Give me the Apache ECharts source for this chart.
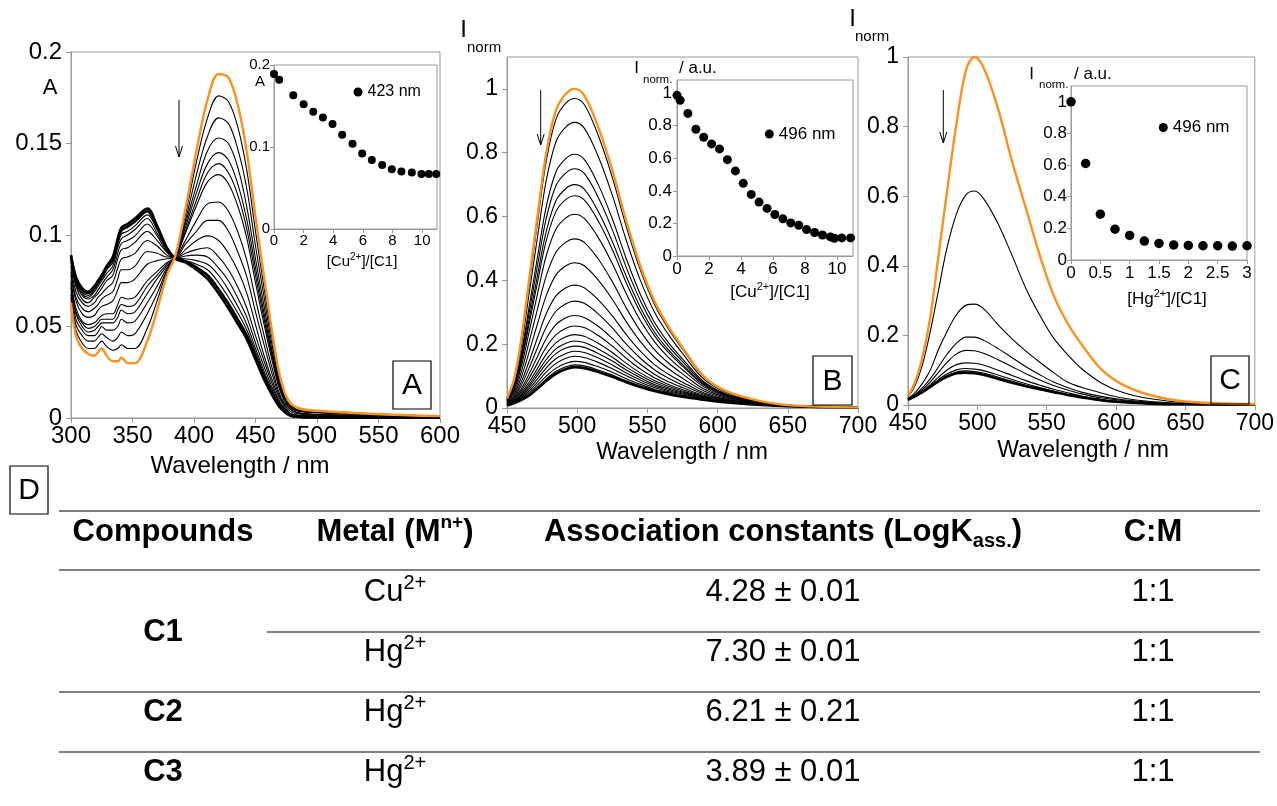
<!DOCTYPE html>
<html>
<head>
<meta charset="utf-8">
<script src="https://cdn.jsdelivr.net/npm/echarts@6.0.0/dist/echarts.min.js"></script>
<style>
html, body { margin: 0; padding: 0; background: #fff; }
#chart { width: 1277px; height: 806px; }
</style>
</head>
<body>
<div id="chart"></div>
<script>
var FONT = '"Liberation Sans", Arial, sans-serif';
var ORANGE = '#f7931e';
var AXIS = '#999999';

// ---- panel A : absorbance titration with Cu2+ (first = free ligand, last = end point)
var waveA = [300, 304, 309, 314, 319, 322, 325, 329, 334, 338, 341, 346, 352, 362, 370, 378, 385, 393, 402, 411, 420, 428, 436, 443, 450, 457, 464, 471, 480, 500, 600];
var absA = [
  [0.063, 0.045, 0.038, 0.035, 0.034, 0.036, 0.038, 0.034, 0.031, 0.031, 0.033, 0.030, 0.030, 0.042, 0.059, 0.078, 0.089, 0.114, 0.146, 0.174, 0.188, 0.186, 0.170, 0.145, 0.110, 0.077, 0.045, 0.020, 0.007, 0.004, 0.001],
  [0.066, 0.048, 0.041, 0.038, 0.038, 0.040, 0.042, 0.039, 0.037, 0.038, 0.040, 0.038, 0.038, 0.049, 0.064, 0.080, 0.089, 0.111, 0.140, 0.164, 0.176, 0.173, 0.158, 0.135, 0.102, 0.071, 0.042, 0.019, 0.006, 0.004, 0.001],
  [0.068, 0.051, 0.045, 0.042, 0.042, 0.044, 0.046, 0.044, 0.042, 0.044, 0.047, 0.045, 0.046, 0.057, 0.068, 0.081, 0.089, 0.108, 0.133, 0.154, 0.164, 0.161, 0.146, 0.125, 0.094, 0.066, 0.038, 0.017, 0.006, 0.003, 0.001],
  [0.071, 0.054, 0.048, 0.045, 0.045, 0.047, 0.050, 0.048, 0.048, 0.050, 0.054, 0.052, 0.053, 0.063, 0.072, 0.082, 0.088, 0.106, 0.127, 0.146, 0.153, 0.150, 0.136, 0.115, 0.087, 0.061, 0.035, 0.016, 0.005, 0.003, 0.001],
  [0.072, 0.057, 0.050, 0.047, 0.048, 0.050, 0.052, 0.052, 0.052, 0.055, 0.059, 0.057, 0.058, 0.068, 0.076, 0.083, 0.088, 0.104, 0.123, 0.139, 0.145, 0.141, 0.127, 0.108, 0.082, 0.057, 0.033, 0.015, 0.005, 0.003, 0.001],
  [0.074, 0.058, 0.052, 0.049, 0.050, 0.052, 0.054, 0.054, 0.054, 0.059, 0.062, 0.061, 0.062, 0.072, 0.078, 0.084, 0.088, 0.102, 0.119, 0.134, 0.139, 0.134, 0.121, 0.103, 0.078, 0.054, 0.032, 0.014, 0.005, 0.003, 0.001],
  [0.075, 0.060, 0.053, 0.051, 0.052, 0.054, 0.056, 0.057, 0.057, 0.062, 0.066, 0.065, 0.066, 0.075, 0.080, 0.085, 0.088, 0.101, 0.116, 0.129, 0.133, 0.128, 0.115, 0.098, 0.074, 0.051, 0.030, 0.013, 0.004, 0.002, 0.001],
  [0.078, 0.064, 0.057, 0.055, 0.056, 0.059, 0.061, 0.062, 0.064, 0.070, 0.074, 0.074, 0.076, 0.084, 0.086, 0.087, 0.088, 0.097, 0.108, 0.117, 0.118, 0.113, 0.101, 0.086, 0.065, 0.045, 0.026, 0.011, 0.004, 0.002, 0.0005],
  [0.080, 0.066, 0.060, 0.058, 0.060, 0.062, 0.065, 0.067, 0.069, 0.076, 0.081, 0.081, 0.083, 0.091, 0.090, 0.088, 0.088, 0.095, 0.102, 0.108, 0.108, 0.102, 0.090, 0.077, 0.058, 0.040, 0.023, 0.010, 0.003, 0.0015, 0.0004],
  [0.083, 0.069, 0.063, 0.061, 0.063, 0.066, 0.068, 0.071, 0.074, 0.082, 0.087, 0.088, 0.090, 0.097, 0.094, 0.089, 0.0875, 0.092, 0.097, 0.0995, 0.097, 0.090, 0.080, 0.068, 0.051, 0.034, 0.020, 0.009, 0.002, 0.001, 0.0003],
  [0.085, 0.072, 0.065, 0.063, 0.066, 0.068, 0.071, 0.075, 0.078, 0.087, 0.092, 0.093, 0.096, 0.102, 0.097, 0.0905, 0.0873, 0.090, 0.092, 0.093, 0.088, 0.081, 0.071, 0.060, 0.045, 0.031, 0.018, 0.0075, 0.002, 0.001, 0.0002],
  [0.086, 0.073, 0.067, 0.065, 0.067, 0.070, 0.073, 0.077, 0.081, 0.090, 0.0955, 0.097, 0.0995, 0.106, 0.0995, 0.091, 0.0872, 0.0885, 0.089, 0.088, 0.082, 0.075, 0.065, 0.055, 0.041, 0.028, 0.016, 0.007, 0.0017, 0.0008, 0.0002],
  [0.087, 0.074, 0.068, 0.066, 0.069, 0.072, 0.075, 0.079, 0.083, 0.093, 0.098, 0.100, 0.103, 0.109, 0.101, 0.092, 0.0872, 0.087, 0.086, 0.084, 0.078, 0.070, 0.0605, 0.051, 0.038, 0.0255, 0.0146, 0.0062, 0.0015, 0.0006, 0.0002],
  [0.088, 0.075, 0.069, 0.067, 0.070, 0.073, 0.076, 0.081, 0.085, 0.095, 0.1005, 0.102, 0.105, 0.111, 0.103, 0.092, 0.0871, 0.086, 0.084, 0.081, 0.074, 0.066, 0.057, 0.048, 0.036, 0.024, 0.0136, 0.0057, 0.0013, 0.0005, 0.0001],
  [0.0885, 0.0764, 0.0703, 0.0683, 0.0712, 0.0742, 0.0772, 0.082, 0.0869, 0.0967, 0.1026, 0.1045, 0.1074, 0.113, 0.104, 0.0927, 0.087, 0.0856, 0.0823, 0.078, 0.0704, 0.0625, 0.0534, 0.045, 0.0336, 0.0221, 0.0127, 0.0053, 0.0011, 0.0004, 0.0001],
  [0.089, 0.077, 0.071, 0.069, 0.072, 0.075, 0.078, 0.083, 0.088, 0.098, 0.104, 0.106, 0.109, 0.1145, 0.105, 0.093, 0.087, 0.085, 0.081, 0.076, 0.068, 0.060, 0.051, 0.043, 0.032, 0.021, 0.012, 0.005, 0.001, 0.0003, 0.0001]
];
// inset A : A at 423 nm vs [Cu2+]/[C1]
var ratioCuA = [0, 0.35, 1.3, 2.0, 2.65, 3.3, 3.95, 4.6, 5.3, 5.95, 6.6, 7.3, 7.95, 8.6, 9.3, 9.95, 10.45, 10.95];
var abs423 = [0.189, 0.182, 0.163, 0.152, 0.143, 0.136, 0.128, 0.115, 0.104, 0.092, 0.084, 0.078, 0.073, 0.070, 0.069, 0.067, 0.067, 0.067];

// ---- panels B and C : normalised emission
var waveBC = [450, 455, 460, 466, 472, 478, 485, 492, 498, 505, 515, 525, 535, 545, 555, 565, 575, 590, 605, 625, 650, 700];
var fluB = [
  [0.03, 0.09, 0.21, 0.41, 0.61, 0.80, 0.935, 0.985, 1.0, 0.98, 0.88, 0.745, 0.585, 0.445, 0.335, 0.255, 0.19, 0.10, 0.055, 0.027, 0.009, 0.002],
  [0.029, 0.087, 0.204, 0.397, 0.591, 0.776, 0.907, 0.956, 0.970, 0.951, 0.854, 0.723, 0.568, 0.432, 0.325, 0.248, 0.185, 0.098, 0.054, 0.026, 0.009, 0.002],
  [0.027, 0.081, 0.188, 0.366, 0.544, 0.714, 0.836, 0.881, 0.895, 0.877, 0.788, 0.667, 0.525, 0.400, 0.301, 0.230, 0.171, 0.091, 0.051, 0.025, 0.009, 0.002],
  [0.025, 0.072, 0.167, 0.323, 0.481, 0.632, 0.741, 0.782, 0.795, 0.779, 0.700, 0.593, 0.467, 0.356, 0.269, 0.205, 0.154, 0.083, 0.046, 0.023, 0.008, 0.002],
  [0.024, 0.069, 0.157, 0.304, 0.453, 0.595, 0.698, 0.737, 0.750, 0.735, 0.660, 0.559, 0.440, 0.336, 0.254, 0.194, 0.146, 0.079, 0.044, 0.022, 0.008, 0.002],
  [0.022, 0.064, 0.146, 0.283, 0.422, 0.554, 0.651, 0.688, 0.700, 0.686, 0.616, 0.522, 0.412, 0.315, 0.238, 0.182, 0.137, 0.075, 0.042, 0.021, 0.008, 0.002],
  [0.022, 0.061, 0.139, 0.268, 0.400, 0.525, 0.617, 0.654, 0.665, 0.652, 0.586, 0.497, 0.392, 0.300, 0.227, 0.174, 0.131, 0.072, 0.041, 0.021, 0.008, 0.002],
  [0.020, 0.056, 0.127, 0.243, 0.363, 0.478, 0.562, 0.596, 0.607, 0.594, 0.534, 0.453, 0.358, 0.274, 0.208, 0.159, 0.120, 0.067, 0.038, 0.020, 0.008, 0.002],
  [0.018, 0.050, 0.110, 0.211, 0.315, 0.415, 0.489, 0.520, 0.530, 0.519, 0.467, 0.396, 0.313, 0.241, 0.183, 0.141, 0.107, 0.060, 0.035, 0.018, 0.007, 0.002],
  [0.016, 0.043, 0.094, 0.179, 0.268, 0.353, 0.418, 0.446, 0.455, 0.446, 0.401, 0.341, 0.270, 0.208, 0.159, 0.123, 0.093, 0.054, 0.032, 0.017, 0.007, 0.002],
  [0.015, 0.037, 0.080, 0.149, 0.224, 0.296, 0.352, 0.377, 0.385, 0.377, 0.339, 0.289, 0.230, 0.178, 0.136, 0.106, 0.081, 0.048, 0.029, 0.016, 0.007, 0.002],
  [0.013, 0.033, 0.069, 0.128, 0.192, 0.254, 0.304, 0.327, 0.335, 0.328, 0.295, 0.251, 0.200, 0.156, 0.120, 0.093, 0.072, 0.044, 0.027, 0.015, 0.007, 0.002],
  [0.012, 0.029, 0.059, 0.109, 0.164, 0.218, 0.262, 0.283, 0.290, 0.284, 0.256, 0.218, 0.175, 0.137, 0.106, 0.082, 0.064, 0.040, 0.025, 0.014, 0.007, 0.002],
  [0.011, 0.026, 0.052, 0.095, 0.143, 0.191, 0.230, 0.250, 0.257, 0.252, 0.227, 0.194, 0.156, 0.122, 0.095, 0.074, 0.058, 0.037, 0.024, 0.013, 0.006, 0.002],
  [0.011, 0.024, 0.047, 0.083, 0.126, 0.169, 0.205, 0.223, 0.230, 0.225, 0.203, 0.174, 0.140, 0.110, 0.086, 0.068, 0.053, 0.035, 0.022, 0.013, 0.006, 0.002],
  [0.010, 0.022, 0.042, 0.075, 0.114, 0.152, 0.186, 0.203, 0.210, 0.205, 0.185, 0.159, 0.128, 0.102, 0.080, 0.063, 0.050, 0.033, 0.022, 0.013, 0.006, 0.002],
  [0.010, 0.021, 0.039, 0.068, 0.104, 0.139, 0.171, 0.188, 0.194, 0.190, 0.171, 0.147, 0.119, 0.095, 0.074, 0.059, 0.047, 0.032, 0.021, 0.012, 0.006, 0.002],
  [0.009, 0.019, 0.036, 0.061, 0.093, 0.126, 0.155, 0.171, 0.178, 0.174, 0.157, 0.135, 0.110, 0.088, 0.069, 0.055, 0.044, 0.030, 0.020, 0.012, 0.006, 0.002],
  [0.009, 0.018, 0.032, 0.054, 0.083, 0.113, 0.140, 0.156, 0.162, 0.158, 0.143, 0.123, 0.101, 0.081, 0.064, 0.051, 0.041, 0.029, 0.019, 0.012, 0.006, 0.002],
  [0.0085, 0.017, 0.029, 0.048, 0.074, 0.100, 0.125, 0.140, 0.146, 0.143, 0.129, 0.112, 0.092, 0.074, 0.059, 0.048, 0.038, 0.028, 0.019, 0.011, 0.006, 0.002],
  [0.008, 0.016, 0.027, 0.043, 0.066, 0.091, 0.115, 0.129, 0.135, 0.132, 0.119, 0.103, 0.085, 0.069, 0.055, 0.045, 0.036, 0.027, 0.018, 0.011, 0.006, 0.002],
  [0.008, 0.015, 0.025, 0.040, 0.062, 0.085, 0.108, 0.122, 0.128, 0.125, 0.113, 0.098, 0.081, 0.066, 0.053, 0.043, 0.035, 0.026, 0.018, 0.011, 0.006, 0.002]
];
var ratioCuB = [0, 0.2, 0.68, 1.18, 1.67, 2.16, 2.66, 3.15, 3.65, 4.14, 4.64, 5.13, 5.63, 6.12, 6.62, 7.11, 7.61, 8.1, 8.6, 9.09, 9.59, 9.84, 10.3, 10.85];
var int496B = [0.986, 0.955, 0.875, 0.778, 0.729, 0.688, 0.657, 0.591, 0.522, 0.446, 0.378, 0.331, 0.292, 0.255, 0.228, 0.203, 0.189, 0.162, 0.144, 0.129, 0.117, 0.109, 0.111, 0.111];

var fluC = [
  [0.025, 0.065, 0.13, 0.25, 0.43, 0.61, 0.81, 0.965, 1.0, 0.965, 0.85, 0.70, 0.565, 0.43, 0.315, 0.235, 0.175, 0.10, 0.058, 0.028, 0.010, 0.002],
  [0.022, 0.055, 0.11, 0.21, 0.33, 0.45, 0.55, 0.605, 0.615, 0.59, 0.52, 0.43, 0.335, 0.258, 0.192, 0.145, 0.105, 0.062, 0.036, 0.018, 0.007, 0.002],
  [0.018, 0.035, 0.06, 0.10, 0.16, 0.21, 0.26, 0.287, 0.29, 0.275, 0.23, 0.19, 0.155, 0.123, 0.093, 0.066, 0.051, 0.034, 0.02, 0.01, 0.004, 0.001],
  [0.017, 0.03, 0.048, 0.075, 0.11, 0.145, 0.178, 0.195, 0.195, 0.185, 0.162, 0.136, 0.11, 0.087, 0.066, 0.05, 0.037, 0.024, 0.015, 0.008, 0.003, 0.001],
  [0.016, 0.028, 0.043, 0.066, 0.094, 0.122, 0.147, 0.157, 0.156, 0.148, 0.13, 0.11, 0.09, 0.072, 0.056, 0.043, 0.032, 0.02, 0.013, 0.007, 0.003, 0.001],
  [0.015, 0.026, 0.039, 0.058, 0.080, 0.100, 0.116, 0.121, 0.12, 0.114, 0.10, 0.085, 0.07, 0.057, 0.045, 0.035, 0.026, 0.016, 0.01, 0.005, 0.002, 0.001],
  [0.015, 0.025, 0.037, 0.054, 0.073, 0.089, 0.101, 0.105, 0.103, 0.098, 0.086, 0.073, 0.061, 0.05, 0.04, 0.031, 0.024, 0.014, 0.009, 0.005, 0.002, 0.001],
  [0.015, 0.025, 0.036, 0.053, 0.070, 0.084, 0.095, 0.098, 0.096, 0.091, 0.080, 0.068, 0.057, 0.047, 0.038, 0.030, 0.023, 0.014, 0.008, 0.004, 0.002, 0.001],
  [0.015, 0.025, 0.036, 0.052, 0.068, 0.081, 0.091, 0.093, 0.091, 0.086, 0.075, 0.064, 0.054, 0.045, 0.037, 0.029, 0.022, 0.013, 0.008, 0.004, 0.002, 0.001]
];
var ratioHg = [0, 0.25, 0.5, 0.75, 1.0, 1.25, 1.5, 1.75, 2.0, 2.25, 2.5, 2.75, 3.0];
var int496C = [1.0, 0.61, 0.29, 0.195, 0.155, 0.12, 0.105, 0.095, 0.092, 0.09, 0.09, 0.088, 0.09];

// ---- table D
var tblLogK = ['4.28 ± 0.01', '7.30 ± 0.01', '6.21 ± 0.21', '3.89 ± 0.01'];
var tblMetal = ['Cu', 'Hg', 'Hg', 'Hg'];
var tblRatio = ['1:1', '1:1', '1:1', '1:1'];
var tblCompounds = ['C1', 'C2', 'C3'];

function pairs(xs, ys) {
  return xs.map(function (x, i) { return [x, ys[i]]; });
}

var chart = echarts.init(document.getElementById('chart'), null, { renderer: 'canvas' });

var grids = [
  { left: 71, top: 52, width: 369, height: 366 },
  { left: 274, top: 65, width: 163, height: 164 },
  { left: 507, top: 57, width: 351, height: 351 },
  { left: 677, top: 80, width: 176, height: 176 },
  { left: 908, top: 57, width: 350, height: 348 },
  { left: 1071, top: 86, width: 176, height: 174 }
].map(function (g) {
  g.show = true; g.borderColor = AXIS; g.borderWidth = 1; g.containLabel = false;
  return g;
});

function axis(gi, min, max, step, size, margin, hideMax) {
  return {
    gridIndex: gi, type: 'value', min: min, max: max, interval: step,
    axisLine: { show: true, onZero: false, lineStyle: { color: AXIS, width: 1 } },
    axisTick: { show: true, inside: false, length: size > 18 ? 5 : 4, lineStyle: { color: AXIS } },
    axisLabel: { color: '#000', fontSize: size, fontFamily: FONT, margin: margin, showMaxLabel: !hideMax },
    splitLine: { show: false }
  };
}

var xAxes = [
  axis(0, 300, 600, 50, 24, 6, false),
  axis(1, 0, 11, 2, 15, 4, true),
  axis(2, 450, 700, 50, 23, 7, false),
  axis(3, 0, 11, 2, 17, 5, true),
  axis(4, 450, 700, 50, 23, 7, false),
  axis(5, 0, 3, 0.5, 17, 5, false)
];
var yAxes = [
  axis(0, 0, 0.2, 0.05, 24, 9, false),
  axis(1, 0, 0.2, 0.1, 15, 4, false),
  axis(2, 0, 1.1, 0.2, 23, 9, true),
  axis(3, 0, 1.08, 0.2, 17, 5, true),
  axis(4, 0, 1, 0.2, 23, 9, false),
  axis(5, 0, 1.1, 0.2, 17, 4, true)
];

var series = [];
function addSpectra(list, xs, gi, heavyFrom) {
  list.forEach(function (ys, k) {
    var first = k === 0;
    series.push({
      type: 'line', xAxisIndex: gi, yAxisIndex: gi,
      data: pairs(xs, ys), symbol: 'none', smooth: 0.35, silent: true,
      lineStyle: { color: first ? ORANGE : '#000', width: first ? 2.4 : (k >= heavyFrom ? 2.6 : 1.1) },
      z: first ? 5 : 3
    });
  });
}
addSpectra(absA, waveA, 0, 14);
addSpectra(fluB, waveBC, 2, 21);
addSpectra(fluC, waveBC, 4, 8);

function addInset(name, xs, ys, gi, size) {
  series.push({
    type: 'scatter', name: name, xAxisIndex: gi, yAxisIndex: gi,
    data: pairs(xs, ys), symbol: 'circle', symbolSize: size,
    itemStyle: { color: '#000', opacity: 1 }, silent: true, z: 6
  });
}
addInset('423 nm', ratioCuA, abs423, 1, 8);
addInset('496 nm', ratioCuB, int496B, 3, 9);
addInset('496 nm', ratioHg, int496C, 5, 9.5);

function txt(x, y, text, size, opt) {
  opt = opt || {};
  var style = {
    x: x, y: y, text: text, fontSize: size, fontFamily: FONT,
    fontWeight: opt.bold ? 'bold' : 'normal', fill: '#000',
    align: opt.align || 'center', verticalAlign: 'middle',
    textAlign: opt.align || 'center', textVerticalAlign: 'middle'
  };
  if (opt.rich) style.rich = opt.rich;
  return { type: 'text', silent: true, z: 10, style: style };
}
function line(x1, y1, x2, y2, color, w) {
  return { type: 'line', silent: true, z: 10, shape: { x1: x1, y1: y1, x2: x2, y2: y2 }, style: { stroke: color, lineWidth: w } };
}
function arrow(x, y1, y2) {
  return [
    line(x, y1, x, y2, '#000', 1),
    { type: 'polyline', silent: true, z: 10, shape: { points: [[x - 3.5, y2 - 11], [x, y2], [x + 3.5, y2 - 11]] }, style: { stroke: '#000', lineWidth: 1, fill: null } }
  ];
}
function box(x, y, w, h, letter) {
  return [
    { type: 'rect', silent: true, z: 10, shape: { x: x, y: y, width: w, height: h }, style: { fill: null, stroke: '#000', lineWidth: 1.2 } },
    txt(x + w / 2, y + h / 2 + 1, letter, 30)
  ];
}

var richSmall = function (size) {
  return {
    n: { fontSize: size, fontFamily: FONT, fill: '#000', lineHeight: size + 4 },
    s: { fontSize: Math.round(size * 0.65), fontFamily: FONT, fill: '#000', verticalAlign: 'top', lineHeight: Math.round(size * 0.65) }
  };
};
var richTable = {
  b: { fontSize: 31, fontFamily: FONT, fontWeight: 'bold', fill: '#000', lineHeight: 38 },
  bs: { fontSize: 19, fontFamily: FONT, fontWeight: 'bold', fill: '#000', verticalAlign: 'top', lineHeight: 19 },
  bd: { fontSize: 20, fontFamily: FONT, fontWeight: 'bold', fill: '#000', verticalAlign: 'bottom', lineHeight: 20 },
  r: { fontSize: 31, fontFamily: FONT, fill: '#000', lineHeight: 38 },
  rs: { fontSize: 20, fontFamily: FONT, fill: '#000', verticalAlign: 'top', lineHeight: 20 }
};

var graphics = [];
// axis titles
graphics.push(txt(240, 466, 'Wavelength / nm', 24));
graphics.push(txt(682, 453, 'Wavelength / nm', 23));
graphics.push(txt(1083, 451, 'Wavelength / nm', 23));
graphics.push(txt(50, 88, 'A', 22));
graphics.push(txt(463.5, 30, 'I', 24));
graphics.push(txt(467, 48, 'norm', 15, { align: 'left' }));
graphics.push(txt(852.5, 19, 'I', 24));
graphics.push(txt(855, 37, 'norm', 15, { align: 'left' }));
// inset titles
graphics.push(txt(260, 82, 'A', 15));
graphics.push(txt(362, 262, '{n|[Cu}{s|2+}{n|]/[C1]}', 15, { rich: richSmall(15) }));
graphics.push(txt(636.5, 68, 'I', 17));
graphics.push(txt(643, 80, 'norm.', 11.5, { align: 'left' }));
graphics.push(txt(679, 68, '/ a.u.', 17, { align: 'left' }));
graphics.push(txt(770, 292, '{n|[Cu}{s|2+}{n|]/[C1]}', 17, { rich: richSmall(17) }));
graphics.push(txt(1031.5, 74, 'I', 17));
graphics.push(txt(1039, 85, 'norm.', 11.5, { align: 'left' }));
graphics.push(txt(1074, 74, '/ a.u.', 17, { align: 'left' }));
graphics.push(txt(1167, 299, '{n|[Hg}{s|2+}{n|]/[C1]}', 17, { rich: richSmall(17) }));
// arrows and panel letters
graphics = graphics.concat(arrow(179, 100, 157), arrow(540.7, 90, 145), arrow(943.3, 90, 143));
graphics = graphics.concat(box(393, 361, 38, 48, 'A'), box(813, 356, 39, 49, 'B'), box(1211, 356, 38, 48, 'C'), box(10, 466, 38, 48, 'D'));

// table D
var colX = [163, 395, 783, 1153];
var rowY = [592, 652, 712, 772];
[511, 570, 692, 752].forEach(function (y) { graphics.push(line(59, y, 1260, y, '#808080', 2)); });
graphics.push(line(267, 632, 1260, 632, '#808080', 2));
graphics.push(txt(colX[0], 532, '{b|Compounds}', 31, { rich: richTable }));
graphics.push(txt(colX[1], 532, '{b|Metal (M}{bs|n+}{b|)}', 31, { rich: richTable }));
graphics.push(txt(colX[2], 532, '{b|Association constants (LogK}{bd|ass.}{b|)}', 31, { rich: richTable }));
graphics.push(txt(colX[3], 532, '{b|C:M}', 31, { rich: richTable }));
graphics.push(txt(colX[0], 632, '{b|' + tblCompounds[0] + '}', 31, { rich: richTable }));
graphics.push(txt(colX[0], rowY[2], '{b|' + tblCompounds[1] + '}', 31, { rich: richTable }));
graphics.push(txt(colX[0], rowY[3], '{b|' + tblCompounds[2] + '}', 31, { rich: richTable }));
rowY.forEach(function (y, i) {
  graphics.push(txt(colX[1], y, '{r|' + tblMetal[i] + '}{rs|2+}', 31, { rich: richTable }));
  graphics.push(txt(colX[2], y, '{r|' + tblLogK[i] + '}', 31, { rich: richTable }));
  graphics.push(txt(colX[3], y, '{r|' + tblRatio[i] + '}', 31, { rich: richTable }));
});

chart.setOption({
  animation: false,
  backgroundColor: '#fff',
  textStyle: { fontFamily: FONT },
  grid: grids,
  xAxis: xAxes,
  yAxis: yAxes,
  legend: [
    { data: [{ name: '423 nm', icon: 'circle' }], left: 353.5, top: 84, itemWidth: 9, itemHeight: 9, padding: 0, selectedMode: false, textStyle: { color: '#000', fontSize: 16, fontFamily: FONT } },
    { data: [{ name: '496 nm', icon: 'circle' }], left: 764.8, top: 125.5, itemWidth: 9, itemHeight: 9, padding: 0, selectedMode: false, textStyle: { color: '#000', fontSize: 17, fontFamily: FONT } },
    { data: [{ name: '496 nm', icon: 'circle' }], left: 1158.8, top: 119, itemWidth: 9, itemHeight: 9, padding: 0, selectedMode: false, textStyle: { color: '#000', fontSize: 17, fontFamily: FONT } }
  ],
  series: series,
  graphic: { elements: graphics }
});
</script>
</body>
</html>
